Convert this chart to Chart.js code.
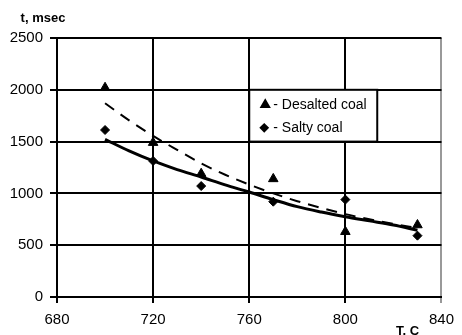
<!DOCTYPE html>
<html>
<head>
<meta charset="utf-8">
<script src="https://cdn.jsdelivr.net/npm/chart.js@4/dist/chart.umd.min.js"></script>
<style>
  body { margin: 0; background: #fff; }
  canvas { display: block; }
</style>
</head>
<body>
<canvas id="myChart" width="462" height="335"></canvas>
<script>
// measured points
const temps = [700, 720, 740, 770, 800, 830];
const desaltedTimes = [2020, 1490, 1190, 1140, 630, 695];
const saltyTimes = [1612, 1313, 1071, 920, 940, 592];

// trend curves
const trendTemps = [700, 710, 720, 730, 740, 750, 760, 770, 780, 790, 800, 810, 820, 830];
const desaltedTrend = [1870, 1705, 1555, 1420, 1290, 1180, 1085, 1000, 925, 860, 800, 750, 705, 665];
const saltyTrend = [1522, 1410, 1313, 1230, 1158, 1082, 1013, 940, 872, 820, 775, 735, 695, 645];

const xTicks = [680, 720, 760, 800, 840];
const yTicks = [0, 500, 1000, 1500, 2000, 2500];

const legendLabels = ['- Desalted coal', '- Salty coal'];
const yTitle = 't, msec';
const xTitle = 'T, C';

function toPoints(xs, ys) {
  return xs.map(function (x, i) { return { x: x, y: ys[i] }; });
}

document.addEventListener('DOMContentLoaded', function () {

  // Legend box + axis titles - START
  const extras = {
    id: 'extras',
    afterDraw: function (chart) {
      const ctx = chart.ctx;
      const xs = chart.scales.x;
      const ys = chart.scales.y;
      const left = xs.getPixelForValue(760);
      const top = ys.getPixelForValue(2000);
      const bottom = ys.getPixelForValue(1500);
      const right = left + 128;

      ctx.save();
      ctx.fillStyle = '#fff';
      ctx.fillRect(left, top, right - left, bottom - top);
      ctx.strokeStyle = '#000';
      ctx.lineWidth = 2;
      ctx.strokeRect(left, top, right - left, bottom - top);

      ctx.fillStyle = '#000';
      ctx.font = '14px "Liberation Sans", Arial, sans-serif';
      ctx.textBaseline = 'middle';
      ctx.textAlign = 'left';
      const row1 = top + 15;
      const row2 = top + 38;
      Chart.helpers.drawPoint(ctx, { pointStyle: 'triangle', radius: 4.5, borderWidth: 1 }, left + 16, row1);
      Chart.helpers.drawPoint(ctx, { pointStyle: 'rectRot', radius: 3.5, borderWidth: 1 }, left + 15, row2);
      ctx.fillText(legendLabels[0], left + 24, row1);
      ctx.fillText(legendLabels[1], left + 24, row2);

      ctx.font = 'bold 13px "Liberation Sans", Arial, sans-serif';
      ctx.textAlign = 'center';
      ctx.fillText(yTitle, 43, 18);
      ctx.fillText(xTitle, chart.chartArea.right - 34, 331);
      ctx.restore();
    }
  };
  // Legend box + axis titles - END

  const data = {
    datasets: [
      {
        label: 'Desalted coal',
        data: toPoints(temps, desaltedTimes),
        pointStyle: 'triangle',
        pointRadius: 5.5,
        backgroundColor: '#000',
        borderColor: '#000',
        showLine: false,
        order: 0
      },
      {
        label: 'Salty coal',
        data: toPoints(temps, saltyTimes),
        pointStyle: 'rectRot',
        pointRadius: 4.5,
        backgroundColor: '#000',
        borderColor: '#000',
        showLine: false,
        order: 0
      },
      {
        label: 'Desalted trend',
        data: toPoints(trendTemps, desaltedTrend),
        showLine: true,
        pointRadius: 0,
        borderColor: '#000',
        borderWidth: 2,
        borderDash: [11, 8],
        cubicInterpolationMode: 'monotone',
        order: 1
      },
      {
        label: 'Salty trend',
        data: toPoints(trendTemps, saltyTrend),
        showLine: true,
        pointRadius: 0,
        borderColor: '#000',
        borderWidth: 3,
        cubicInterpolationMode: 'monotone',
        order: 1
      }
    ]
  };

  const tickFont = { family: '"Liberation Sans", Arial, sans-serif', size: 15 };

  const config = {
    type: 'scatter',
    data: data,
    options: {
      responsive: false,
      animation: false,
      layout: { padding: { top: 38, right: 18, left: 0, bottom: 0 } },
      plugins: {
        legend: { display: false },
        tooltip: { enabled: false }
      },
      scales: {
        x: {
          type: 'linear',
          min: xTicks[0],
          max: xTicks[xTicks.length - 1],
          afterBuildTicks: function (scale) {
            scale.ticks = xTicks.map(function (v) { return { value: v }; });
          },
          afterFit: function (scale) { scale.height = 38; },
          border: { color: '#000', width: 2 },
          grid: {
            color: function (c) { return c.tick && c.tick.value === 840 ? '#999' : '#000'; },
            lineWidth: 2,
            tickLength: 6
          },
          ticks: {
            color: '#000',
            padding: 8,
            maxRotation: 0,
            font: tickFont,
            callback: function (v) { return String(v); }
          }
        },
        y: {
          min: yTicks[0],
          max: yTicks[yTicks.length - 1],
          afterBuildTicks: function (scale) {
            scale.ticks = yTicks.map(function (v) { return { value: v }; });
          },
          afterFit: function (scale) { scale.width = 57; },
          border: { color: '#000', width: 2 },
          grid: {
            color: '#000',
            lineWidth: 2,
            tickLength: 7
          },
          ticks: {
            color: '#000',
            padding: 7,
            font: tickFont,
            callback: function (v) { return String(v); }
          }
        }
      }
    },
    plugins: [extras]
  };

  const myChart = new Chart(document.getElementById('myChart'), config);
});
</script>
</body>
</html>
